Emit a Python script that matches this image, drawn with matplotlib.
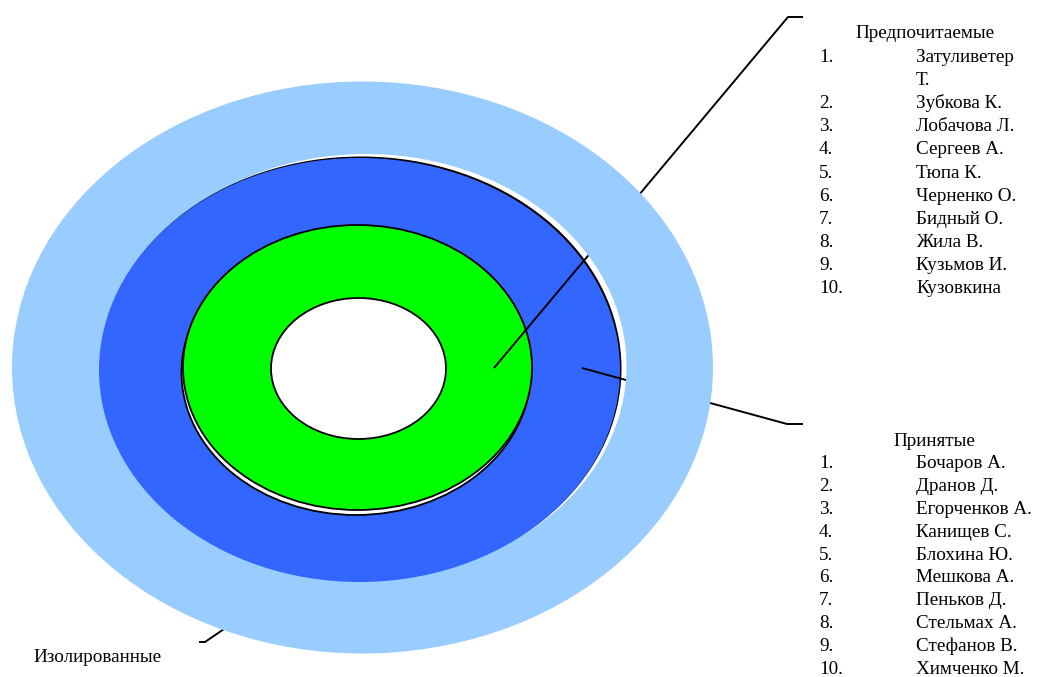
import matplotlib
matplotlib.use("Agg")
import matplotlib.pyplot as plt
from matplotlib.patches import Ellipse

# groups and their members
preferred_title = "Предпочитаемые"
preferred = ["Затуливетер\nТ.", "Зубкова К.", "Лобачова Л.", "Сергеев А.", "Тюпа К.",
             "Черненко О.", "Бидный О.", "Жила В.", "Кузьмов И.", "Кузовкина"]
accepted_title = "Принятые"
accepted = ["Бочаров А.", "Дранов Д.", "Егорченков А.", "Канищев С.", "Блохина Ю.",
            "Мешкова А.", "Пеньков Д.", "Стельмах А.", "Стефанов В.", "Химченко М."]
isolated_title = "Изолированные"

FONT = "Liberation Serif"
FS = 13.8
LW = 1.4

fig = plt.figure(figsize=(10.41, 6.77), dpi=100)
ax = fig.add_axes([0, 0, 1, 1])
ax.set_xlim(0, 1041)
ax.set_ylim(677, 0)
ax.axis("off")

# leader lines (x, y in pixels), drawn under the outer ring
leaders = [
    ([494, 788, 803], [368, 17, 17]),
    ([582, 787, 803], [368, 424, 424]),
    ([262, 205, 199], [603, 642, 642]),
]
for xs, ys in leaders:
    ax.plot(xs, ys, color="black", lw=LW, zorder=1, solid_capstyle="butt")

# rings
ax.add_patch(Ellipse((362.5, 367.5), 701, 572, facecolor="#99ccff", edgecolor="none", zorder=2))
shadow = Ellipse((366, 366), 521, 424, facecolor="white", edgecolor="none", zorder=3)
ax.add_patch(shadow)
ax.add_patch(Ellipse((361, 368.5), 521, 424, facecolor="black", edgecolor="none", zorder=4))
ax.add_patch(Ellipse((359.5, 370), 521, 424, facecolor="#3366ff", edgecolor="none", zorder=5))
ax.add_patch(Ellipse((356, 372.5), 349, 285, facecolor="white", edgecolor="black", lw=1.3, zorder=6))
ax.add_patch(Ellipse((357.5, 367.5), 349, 285, facecolor="#00ff00", edgecolor="black", lw=1.3, zorder=7))
ax.add_patch(Ellipse((358.5, 368.5), 175, 141, facecolor="white", edgecolor="black", lw=1.3, zorder=8))

# the inner parts of the leaders stay visible over the inner rings
for xs, ys in leaders[:2]:
    ln, = ax.plot(xs, ys, color="black", lw=LW, zorder=9, solid_capstyle="butt")
    ln.set_clip_path(shadow)


def draw_list(title, names, title_x, title_y, y0, step):
    ax.text(title_x, title_y, title, ha="center", va="center", fontsize=FS, family=FONT)
    y = y0
    for i, name in enumerate(names):
        ax.text(819, y, f"{i + 1}.", ha="left", va="center", fontsize=FS, family=FONT)
        for part in name.split("\n"):
            ax.text(916, y, part, ha="left", va="center", fontsize=FS, family=FONT)
            y += step


draw_list(preferred_title, preferred, 925, 33, 57, 23.2)
draw_list(accepted_title, accepted, 934, 442, 464, 22.8)
ax.text(33, 658, isolated_title, ha="left", va="center", fontsize=FS, family=FONT)

fig.savefig("out.png", dpi=100)
